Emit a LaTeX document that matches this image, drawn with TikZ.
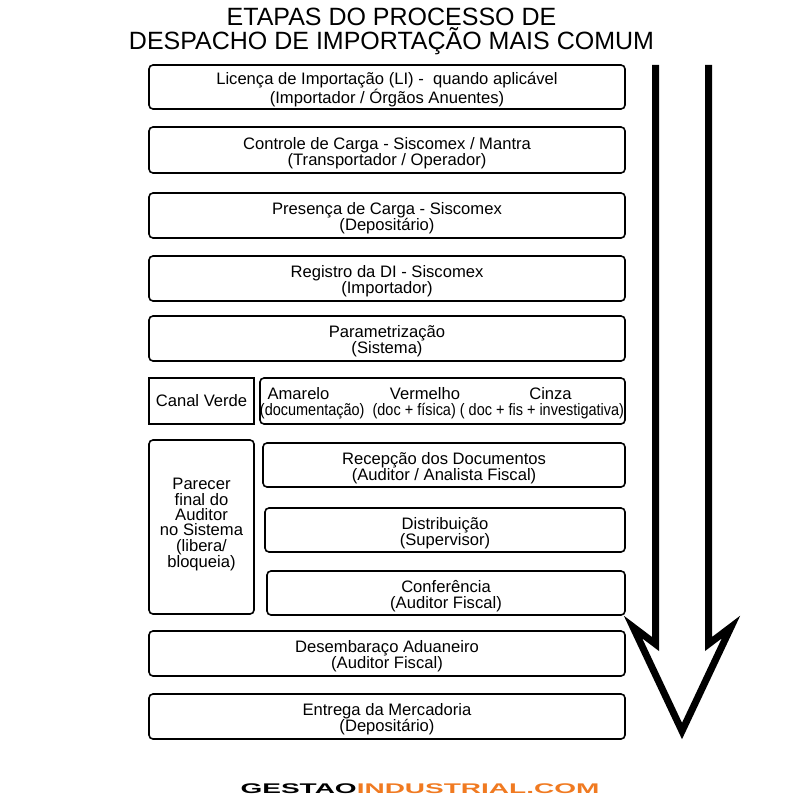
\documentclass[tikz,border=0pt]{standalone}
\usepackage{fontspec}
\setmainfont{Liberation Sans}
\definecolor{logoorange}{HTML}{F07A21}
\newcommand\mytopgap{\rule{0pt}{18pt}}
\begin{document}
\begin{tikzpicture}[x=1pt,y=-1pt,
  box/.style={draw,line width=1.6pt,rounded corners=4pt,align=center,inner sep=0pt,
    font=\fontsize{16.6}{15.8}\selectfont},
  sqbox/.style={box,sharp corners},
  lbl/.style={inner sep=0pt,font=\fontsize{16.6}{15.8}\selectfont},
  bigarrow/.style={line width=7pt,line join=miter,miter limit=10}]
\useasboundingbox (0,0) rectangle (800,800);
\node[align=center,inner sep=0pt,font=\fontsize{25}{24}\selectfont] (title) at (391.5,31.5)
  {ETAPAS DO PROCESSO DE\\DESPACHO DE IMPORTAÇÃO MAIS COMUM};
\node[box,minimum width=476pt,minimum height=44pt] (b1) at (387,87)
  {\mytopgap Licença de Importação (LI) -\ \ quando aplicável\\(Importador / Órgãos Anuentes)};
\node[box,minimum width=476pt,minimum height=46pt] (b2) at (387,150)
  {\mytopgap Controle de Carga - Siscomex / Mantra\\(Transportador / Operador)};
\node[box,minimum width=476pt,minimum height=45pt] (b3) at (387,215.5)
  {\mytopgap Presença de Carga - Siscomex\\(Depositário)};
\node[box,minimum width=476pt,minimum height=45pt] (b4) at (387,278.5)
  {\mytopgap Registro da DI - Siscomex\\(Importador)};
\node[box,minimum width=476pt,minimum height=45pt] (b5) at (387,338.5)
  {\mytopgap Parametrização\\(Sistema)};
\node[sqbox,minimum width=105pt,minimum height=46pt] (cv) at (201.5,401) {Canal Verde};
\node[box,minimum width=365pt,minimum height=46pt] (canal) at (442.5,401) {};
\node[lbl] (am) at (298.5,394) {Amarelo};
\node[lbl] (ve) at (425,394) {Vermelho};
\node[lbl] (ci) at (550.5,394) {Cinza};
\node[inner sep=0pt,font=\fontsize{16.6}{16}\selectfont] (cl2) at (442,411)
  {\scalebox{0.872}[1]{(documentação)\ \ (doc + física) ( doc + fis + investigativa)}};
\node[box,minimum width=105pt,minimum height=174pt,font=\fontsize{16.6}{15.4}\selectfont] (par) at (201.5,527)
  {Parecer\\final do\\Auditor\\no Sistema\\(libera/\\bloqueia)\rule[-8pt]{0pt}{0pt}};
\node[box,minimum width=362pt,minimum height=44pt] (rec) at (444,465)
  {\mytopgap Recepção dos Documentos\\(Auditor / Analista Fiscal)};
\node[box,minimum width=360pt,minimum height=44pt] (dis) at (445,530)
  {\mytopgap Distribuição\\(Supervisor)};
\node[box,minimum width=358pt,minimum height=44pt] (con) at (446,593)
  {\mytopgap Conferência\\(Auditor Fiscal)};
\node[box,minimum width=476pt,minimum height=45pt] (des) at (387,653.5)
  {\mytopgap Desembaraço Aduaneiro\\(Auditor Fiscal)};
\node[box,minimum width=476pt,minimum height=45pt] (ent) at (387,716.5)
  {\mytopgap Entrega da Mercadoria\\(Depositário)};
% big arrow
\draw[bigarrow] (655.5,65) -- (655.5,644) -- (633,627) -- (682,731) -- (731,627) -- (708.5,644) -- (708.5,65);
% logo
\node[inner sep=0pt] (logo) at (420,788.5)
  {\scalebox{2.0}[1]{\fontsize{14}{14}\selectfont\bfseries GESTAO\textcolor{logoorange}{INDUSTRIAL.COM}}};
\end{tikzpicture}
\end{document}
